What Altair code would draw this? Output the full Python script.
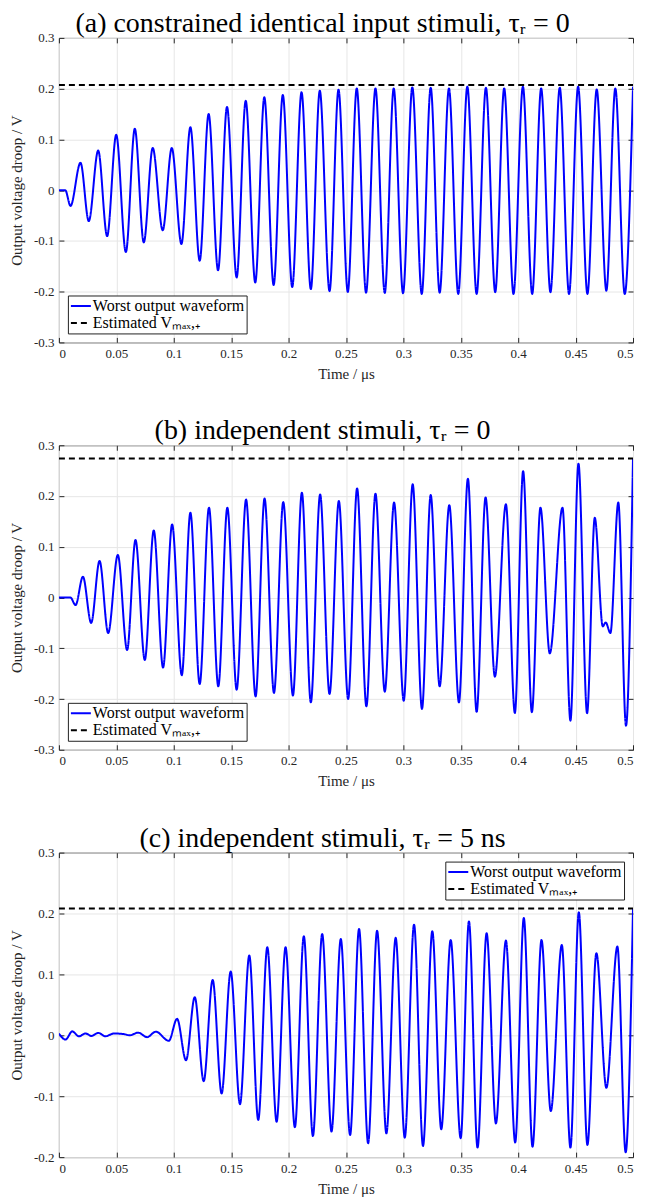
import altair as alt
import pandas as pd

WAVE = "Worst output waveform"
EST = "Estimated Vₘₐₓ,₊"
FONT = "Liberation Serif"

# ---- panel (a): constrained identical input stimuli (peaks / troughs)
t_a = [0, 0.0055, 0.0101, 0.0188, 0.026, 0.0342, 0.042, 0.0499, 0.0583, 0.0661, 0.0739, 0.0817,
       0.0904, 0.0983, 0.1067, 0.1145, 0.1226, 0.1304, 0.1386, 0.1464, 0.1548, 0.1627,
       0.171, 0.1789, 0.187, 0.195, 0.2032, 0.2113, 0.2194, 0.2272, 0.2357, 0.2435,
       0.2516, 0.2594, 0.2675, 0.2757, 0.2838, 0.2916, 0.2997, 0.3078, 0.316, 0.3238,
       0.3316, 0.3397, 0.3478, 0.3557, 0.3638, 0.3719, 0.38, 0.3878, 0.3959, 0.4041,
       0.4122, 0.42, 0.4281, 0.4362, 0.4443, 0.4522, 0.4603, 0.4684, 0.4768, 0.4846,
       0.4928, 0.5]
v_a = [0, 0, -0.031, 0.054, -0.061, 0.078, -0.0905, 0.109, -0.122, 0.121, -0.103, 0.083,
       -0.079, 0.083, -0.106, 0.124, -0.139, 0.150, -0.158, 0.164, -0.172, 0.176,
       -0.182, 0.183, -0.187, 0.1875, -0.191, 0.193, -0.195, 0.196, -0.199, 0.198,
       -0.2005, 0.2005, -0.202, 0.2005, -0.2025, 0.2005, -0.203, 0.2025, -0.2045, 0.202,
       -0.202, 0.2005, -0.2045, 0.204, -0.2045, 0.202, -0.201, 0.2005, -0.2045, 0.204,
       -0.2045, 0.2005, -0.201, 0.202, -0.2045, 0.204, -0.2045, 0.1985, -0.198, 0.2005,
       -0.2045, 0.204]
vmax_a = 0.207

# ---- panel (b): independent stimuli, tau_r = 0
t_b = [0, 0.010, 0.0145, 0.0209, 0.0281, 0.0354, 0.0429, 0.0513, 0.0594, 0.0667, 0.0748, 0.0826,
       0.0907, 0.0986, 0.107, 0.1145, 0.1226, 0.1307, 0.1388, 0.1467, 0.1548, 0.163,
       0.1713, 0.1791, 0.1873, 0.1954, 0.2038, 0.2116, 0.2194, 0.2275, 0.2357, 0.2438,
       0.2519, 0.2597, 0.2678, 0.2757, 0.2838, 0.2919, 0.3003, 0.3081, 0.3162, 0.3238,
       0.3316, 0.34, 0.3484, 0.3562, 0.3638, 0.3716, 0.3797, 0.3893, 0.3971, 0.4043,
       0.4119, 0.4194, 0.4275, 0.4386, 0.4455, 0.4525, 0.46, 0.4667, 0.4737, 0.4762,
       0.4803, 0.4872, 0.4939, 0.5]
v_b = [0, 0, -0.015, 0.041, -0.050, 0.072, -0.070, 0.084, -0.1036, 0.1134, -0.123, 0.132,
       -0.138, 0.144, -0.153, 0.167, -0.1705, 0.177, -0.175, 0.177, -0.1816, 0.193,
       -0.195, 0.195, -0.188, 0.188, -0.193, 0.2066, -0.2066, 0.203, -0.190, 0.190,
       -0.200, 0.215, -0.2144, 0.2046, -0.1856, 0.187, -0.2033, 0.223, -0.2197, 0.202,
       -0.175, 0.182, -0.2066, 0.234, -0.225, 0.197, -0.156, 0.1836, -0.2275, 0.249,
       -0.226, 0.177, -0.110, 0.177, -0.2426, 0.2636, -0.228, 0.157, -0.057, -0.049,
       -0.070, 0.187, -0.2525, 0.275]
vmax_b = 0.274

# ---- panel (c): independent stimuli, tau_r = 5 ns
t_c = [0, 0.0058, 0.0116, 0.0174, 0.0232, 0.0284, 0.0342, 0.0406, 0.0478, 0.0565,
       0.0617, 0.069, 0.0768, 0.0843, 0.0957, 0.1029, 0.1107, 0.1183, 0.1261, 0.1339,
       0.1417, 0.1496, 0.1577, 0.1658, 0.1736, 0.1815, 0.1896, 0.1974, 0.2055, 0.2133,
       0.2212, 0.2293, 0.2374, 0.2455, 0.2536, 0.2614, 0.2693, 0.2771, 0.2852, 0.2933,
       0.3012, 0.3093, 0.3171, 0.3252, 0.333, 0.3412, 0.3499, 0.3571, 0.3646, 0.3725,
       0.3806, 0.3893, 0.3974, 0.4049, 0.4125, 0.4203, 0.4284, 0.438, 0.4455, 0.4528,
       0.4603, 0.4681, 0.4768, 0.4864, 0.4936, 0.5]
v_c = [0.003, -0.007, 0.0065, -0.0016, 0.003, -0.001, 0.004, -0.0016, 0.003, 0.002,
       0.0, 0.0044, -0.003, 0.006, -0.009, 0.027, -0.041, 0.0627, -0.0753, 0.091,
       -0.0955, 0.1047, -0.113, 0.131, -0.139, 0.1446, -0.1418, 0.1446, -0.151, 0.1626,
       -0.1653, 0.1664, -0.158, 0.158, -0.1637, 0.1746, -0.1773, 0.1718, -0.161, 0.16,
       -0.168, 0.1817, -0.1817, 0.1708, -0.1544, 0.1566, -0.169, 0.187, -0.1844, 0.1675,
       -0.1446, 0.1555, -0.176, 0.1926, -0.1828, 0.1566, -0.1244, 0.1484, -0.1844, 0.2019,
       -0.18, 0.1348, -0.0862, 0.1457, -0.192, 0.2084]
vmax_c = 0.2084

x_ticks = [0, 0.05, 0.1, 0.15, 0.2, 0.25, 0.3, 0.35, 0.4, 0.45, 0.5]
y_ticks_ab = [-0.3, -0.2, -0.1, 0, 0.1, 0.2, 0.3]
y_ticks_c = [-0.2, -0.1, 0, 0.1, 0.2, 0.3]

titles = [
    "(a) constrained identical input stimuli, τᵣ = 0",
    "(b) independent stimuli, τᵣ = 0",
    "(c) independent stimuli, τᵣ = 5 ns",
]

for t, v in [(t_a, v_a), (t_b, v_b), (t_c, v_c)]:
    assert len(t) == len(v)

LABEL_EXPR = "replace(format(datum.value, '~g'), '\u2212', '-')"


def tick_axis(values, orient):
    # tick-only axis, pushed 5px inside the frame so its ticks point inwards
    return alt.Axis(values=values, orient=orient, offset=-5, ticks=True, tickSize=5,
                    tickColor="#262626", tickWidth=1, labels=False, grid=False,
                    domain=False, title=None)


def panel(t, v, vmax, title, ydom, yticks, lorient):
    rows = [{"t": a, "v": b, "s": WAVE, "o": i} for i, (a, b) in enumerate(zip(t, v))]
    rows += [{"t": 0.0, "v": vmax, "s": EST, "o": 0},
             {"t": 0.5, "v": vmax, "s": EST, "o": 1}]
    df = pd.DataFrame(rows)
    xs = alt.Scale(domain=[0, 0.5], nice=False, zero=False)
    ys = alt.Scale(domain=ydom, nice=False, zero=False)
    leg = alt.Legend(
        orient=lorient, title=None, labelFont=FONT, labelFontSize=16, labelColor="black",
        symbolType="stroke", symbolSize=400, symbolStrokeWidth=2, clipHeight=17,
        strokeColor="#222222", fillColor="white", padding=2, offset=9,
        rowPadding=0, labelOffset=1, cornerRadius=0, labelLimit=400,
    )
    main = alt.Chart(df).mark_line(interpolate="monotone", strokeWidth=2, clip=True).encode(
        x=alt.X("t:Q", scale=xs,
                axis=alt.Axis(values=x_ticks, title="Time / μs", labelExpr=LABEL_EXPR)),
        y=alt.Y("v:Q", scale=ys,
                axis=alt.Axis(values=yticks, title="Output voltage droop / V", labelExpr=LABEL_EXPR)),
        color=alt.Color("s:N", scale=alt.Scale(domain=[WAVE, EST], range=["#0000ff", "#000000"]),
                        legend=leg),
        strokeDash=alt.StrokeDash("s:N", scale=alt.Scale(domain=[WAVE, EST], range=[[1, 0], [6, 4]]),
                                  legend=leg),
        order="o:Q",
    )
    ticks_tr = alt.Chart(df).mark_point(opacity=0).encode(
        x=alt.X("t:Q", scale=xs, axis=tick_axis(x_ticks, "top")),
        y=alt.Y("v:Q", scale=ys, axis=tick_axis(yticks, "right")),
    )
    ticks_bl = alt.Chart(df).mark_point(opacity=0).encode(
        x=alt.X("t:Q", scale=xs, axis=tick_axis(x_ticks, "bottom")),
        y=alt.Y("v:Q", scale=ys, axis=tick_axis(yticks, "left")),
    )
    return alt.layer(main, ticks_tr, ticks_bl).resolve_axis(
        x="independent", y="independent"
    ).properties(
        width=575, height=305,
        title=alt.TitleParams(text=title, font=FONT, fontSize=28, fontWeight="normal",
                              anchor="middle", frame="bounds", offset=-6, color="black"),
    )


pa = panel(t_a, v_a, vmax_a, titles[0], [-0.3, 0.3], y_ticks_ab, "bottom-left")
pb = panel(t_b, v_b, vmax_b, titles[1], [-0.3, 0.3], y_ticks_ab, "bottom-left")
pc = panel(t_c, v_c, vmax_c, titles[2], [-0.2, 0.3], y_ticks_c, "top-right")

chart = alt.vconcat(pa, pb, pc, spacing=34).resolve_scale(
    color="independent", strokeDash="independent"
).resolve_legend(
    color="independent", strokeDash="independent"
).properties(
    padding=0, background="white"
).configure_axis(
    labelFont=FONT, labelFontSize=13, labelColor="#262626",
    titleFont=FONT, titleFontSize=15, titleFontWeight="normal", titleColor="#262626",
    gridColor="#e6e6e6", gridWidth=1, domain=False, ticks=False, tickSize=0,
    labelPadding=5,
).configure_axisY(
    titlePadding=9,
).configure_axisX(
    titlePadding=6,
).configure_view(
    stroke="#262626", strokeWidth=1,
)

chart.save("out.html", embed_options={"renderer": "svg", "actions": False})
